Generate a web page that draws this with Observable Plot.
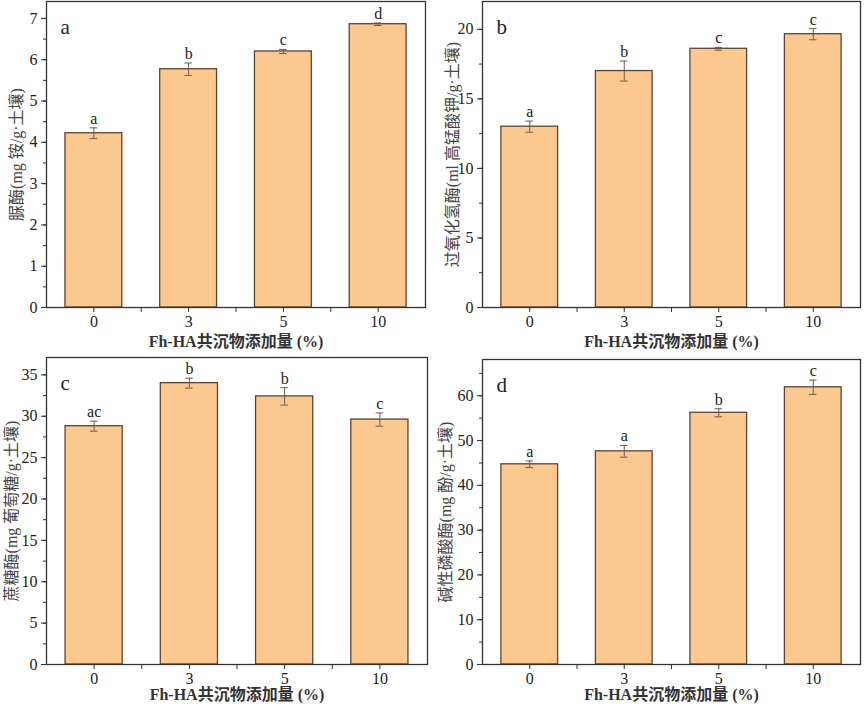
<!DOCTYPE html>
<html>
<head>
<meta charset="utf-8">
<script src="https://cdn.jsdelivr.net/npm/d3@7"></script>
<script src="https://cdn.jsdelivr.net/npm/@observablehq/plot@0.6"></script>
<style>
  body { margin: 0; background: #fff; }
  #wrap { position: relative; width: 864px; height: 704px; }
  #wrap > div { position: absolute; }
  svg { overflow: visible; }
</style>
</head>
<body>
<div id="wrap">
  <div id="pa" style="left:0;top:0"></div>
  <div id="pb" style="left:432px;top:0"></div>
  <div id="pc" style="left:0;top:352px"></div>
  <div id="pd" style="left:432px;top:352px"></div>
</div>
<script>
// ---- data ----
const doses = ["0", "3", "5", "10"];
const xLabel = "Fh-HA共沉物添加量 (%)";

const ureaseVals = [4.22, 5.77, 6.20, 6.86];
const ureaseErr  = [0.13, 0.15, 0.05, 0.03];
const ureaseSig  = ["a", "b", "c", "d"];

const catalaseVals = [13.0, 17.0, 18.6, 19.65];
const catalaseErr  = [0.40, 0.72, 0.10, 0.40];
const catalaseSig  = ["a", "b", "c", "c"];

const sucraseVals = [28.8, 34.0, 32.4, 29.6];
const sucraseErr  = [0.60, 0.60, 1.05, 0.80];
const sucraseSig  = ["ac", "b", "b", "c"];

const phosVals = [44.7, 47.6, 56.2, 61.9];
const phosErr  = [0.75, 1.30, 0.90, 1.60];
const phosSig  = ["a", "a", "b", "c"];

const panels = [
  {id: "pa", tag: "a", label: "脲酶(mg 铵/g·土壤)", vals: ureaseVals, err: ureaseErr, sig: ureaseSig,
   ymax: 7.41, major: d3.range(0, 7.01, 1), minor: d3.range(0, 7.41, 0.5),
   m: {l: 46, r: 7, t: 1, b: 45}, lx: -30, xdy: 34},
  {id: "pb", tag: "b", label: "过氧化氢酶(ml 高锰酸钾/g·土壤)", vals: catalaseVals, err: catalaseErr, sig: catalaseSig,
   ymax: 22.0, major: d3.range(0, 20.01, 5), minor: d3.range(0, 22, 2.5),
   m: {l: 50, r: 4, t: 1, b: 45}, lx: -30, xdy: 34},
  {id: "pc", tag: "c", label: "蔗糖酶(mg 葡萄糖/g·土壤)", vals: sucraseVals, err: sucraseErr, sig: sucraseSig,
   ymax: 37.1, major: d3.range(0, 35.01, 5), minor: d3.range(0, 37.1, 2.5),
   m: {l: 46, r: 5, t: 5, b: 40}, lx: -35, xdy: 30},
  {id: "pd", tag: "d", label: "碱性磷酸酶(mg 酚/g·土壤)", vals: phosVals, err: phosErr, sig: phosSig,
   ymax: 68.1, major: d3.range(0, 60.01, 10), minor: d3.range(0, 68.1, 5),
   m: {l: 50, r: 4, t: 7, b: 40}, lx: -37, xdy: 30}
];

const serif = "'Liberation Serif', 'Times New Roman', 'Noto Sans CJK SC', serif";
const fill = "#FBC990";
const edge = "#5a4535";
const errC = "#6e5c4c";

for (const p of panels) {
  const data = doses.map((d, i) => ({i, dose: d, v: p.vals[i], e: p.err[i], s: p.sig[i]}));
  const chart = Plot.plot({
    width: 432, height: 352,
    marginLeft: p.m.l, marginRight: p.m.r, marginTop: p.m.t, marginBottom: p.m.b,
    style: {fontFamily: serif, fontSize: "16px", color: "#222", background: "transparent"},
    x: {type: "linear", domain: [-0.5, 3.5]},
    y: {domain: [0, p.ymax]},
    marks: [
      Plot.rectY(data, {x1: d => d.i - 0.3, x2: d => d.i + 0.3, y1: 0, y2: "v", fill: fill, stroke: edge, strokeWidth: 1.3}),
      Plot.ruleX(data, {x: "i", y1: d => d.v - d.e, y2: d => d.v + d.e, stroke: errC, strokeWidth: 1}),
      Plot.ruleY(data, {x1: d => d.i - 0.04, x2: d => d.i + 0.04, y: d => d.v + d.e, stroke: errC, strokeWidth: 1}),
      Plot.ruleY(data, {x1: d => d.i - 0.04, x2: d => d.i + 0.04, y: d => d.v - d.e, stroke: errC, strokeWidth: 1}),
      Plot.text(data, {x: "i", y: d => d.v + d.e, text: "s", dy: -4, lineAnchor: "bottom", fontSize: 16, fill: "#222"}),
      Plot.frame({stroke: "#333", strokeWidth: 1.3}),
      // x axis: major ticks with labels, minor ticks between bars
      Plot.axisX({ticks: [0, 1, 2, 3], tickFormat: i => doses[i], tickSize: 5, tickPadding: 3, fontSize: 16, label: null, stroke: "#333"}),
      Plot.axisX({ticks: [0.5, 1.5, 2.5], tickFormat: () => "", tickSize: 5, label: null, stroke: "#333"}),
      // y axis
      Plot.axisY({ticks: p.major, tickSize: 5, tickPadding: 4, fontSize: 16, label: null, stroke: "#333"}),
      Plot.axisY({ticks: p.minor, tickFormat: () => "", tickSize: 3, label: null, stroke: "#333"}),
      // panel tag
      Plot.text([p.tag], {frameAnchor: "top-left", dx: 14, dy: 18, text: d => d, fontSize: 21, fill: "#222"}),
      // axis titles
      Plot.text([xLabel], {frameAnchor: "bottom", dy: p.xdy, lineAnchor: "middle", textAnchor: "middle", text: d => d, fontSize: 16, fontWeight: "bold", fill: "#333"}),
      Plot.text([p.label], {frameAnchor: "left", dx: p.lx, rotate: -90, textAnchor: "middle", lineAnchor: "middle", text: d => d, fontSize: 16, fill: "#444"})
    ]
  });
  document.getElementById(p.id).appendChild(chart);
}
</script>
</body>
</html>
